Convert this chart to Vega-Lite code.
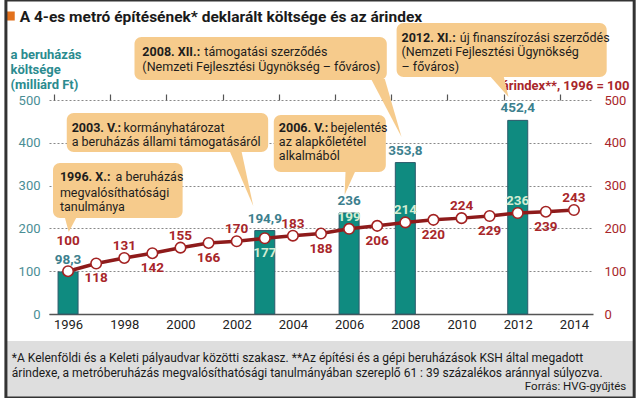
{
  "$schema": "https://vega.github.io/schema/vega-lite/v6.json",
  "width": 544,
  "height": 214,
  "autosize": "none",
  "padding": {"left": 49, "top": 100, "right": 47, "bottom": 84},
  "background": "white",
  "config": {
    "font": "Roboto",
    "view": {"stroke": null},
    "locale": {"number": {"decimal": ",", "thousands": " ", "grouping": [3], "currency": ["", ""]}}
  },
  "datasets": {
    "costs": [
      {"year": 1996, "cost": 98.3},
      {"year": 2003, "cost": 194.9},
      {"year": 2006, "cost": 236},
      {"year": 2008, "cost": 353.8},
      {"year": 2012, "cost": 452.4}
    ],
    "index": [
      {"year": 1996, "index": 100},
      {"year": 1997, "index": 118},
      {"year": 1998, "index": 131},
      {"year": 1999, "index": 142},
      {"year": 2000, "index": 155},
      {"year": 2001, "index": 166},
      {"year": 2002, "index": 170},
      {"year": 2003, "index": 177},
      {"year": 2004, "index": 183},
      {"year": 2005, "index": 188},
      {"year": 2006, "index": 199},
      {"year": 2007, "index": 206},
      {"year": 2008, "index": 214},
      {"year": 2009, "index": 220},
      {"year": 2010, "index": 224},
      {"year": 2011, "index": 229},
      {"year": 2012, "index": 236},
      {"year": 2013, "index": 239},
      {"year": 2014, "index": 243}
    ],
    "boxes": [
      {"id": "1996", "x1": 1995.465, "x2": 2000.076, "y1": 352.8, "y2": 224.3},
      {"id": "2003", "x1": 1995.954, "x2": 2003.12, "y1": 469.6, "y2": 378.5},
      {"id": "2006", "x1": 2003.32, "x2": 2007.306, "y1": 465.0, "y2": 331.8},
      {"id": "2008", "x1": 1998.364, "x2": 2007.341, "y1": 647.2, "y2": 546.7},
      {"id": "2012", "x1": 2007.69, "x2": 2015.165, "y1": 679.9, "y2": 553.7}
    ],
    "pointers": [
      {"id": "1996", "k": 1, "year": 1995.884, "value": 226},
      {"id": "1996", "k": 2, "year": 1996.024, "value": 191.6},
      {"id": "1996", "k": 3, "year": 1996.303, "value": 226},
      {"id": "2003", "k": 1, "year": 2001.752, "value": 380},
      {"id": "2003", "k": 2, "year": 2002.59, "value": 252.3},
      {"id": "2003", "k": 3, "year": 2002.171, "value": 380},
      {"id": "2006", "k": 1, "year": 2005.874, "value": 334},
      {"id": "2006", "k": 2, "year": 2005.839, "value": 278.0},
      {"id": "2006", "k": 3, "year": 2006.223, "value": 334},
      {"id": "2008", "k": 1, "year": 2006.782, "value": 549},
      {"id": "2008", "k": 2, "year": 2007.865, "value": 413.6},
      {"id": "2008", "k": 3, "year": 2007.271, "value": 549},
      {"id": "2012", "k": 1, "year": 2011.008, "value": 556},
      {"id": "2012", "k": 2, "year": 2011.672, "value": 507.0},
      {"id": "2012", "k": 3, "year": 2011.497, "value": 556}
    ],
    "boldText": [
      {"year": 1995.71, "value": 320.8, "text": "1996. X.:"},
      {"year": 1996.129, "value": 434.6, "text": "2003. V.:"},
      {"year": 2003.5, "value": 434.6, "text": "2006. V.:"},
      {"year": 1998.644, "value": 612.1, "text": "2008. XII.:"},
      {"year": 2007.865, "value": 644.9, "text": "2012. XI.:"}
    ],
    "plainText": [
      {"year": 1997.69, "value": 320.8, "text": "a beruházás"},
      {"year": 1995.71, "value": 283.4, "text": "megvalósíthatósági"},
      {"year": 1995.71, "value": 249.3, "text": "tanulmánya"},
      {"year": 1997.97, "value": 434.6, "text": "kormányhatározat"},
      {"year": 1996.129, "value": 401.9, "text": "a beruházás állami támogatásáról"},
      {"year": 2005.34, "value": 434.6, "text": "bejelentés"},
      {"year": 2003.5, "value": 401.9, "text": "az alapkőletétel"},
      {"year": 2003.5, "value": 368.0, "text": "alkalmából"},
      {"year": 2000.85, "value": 612.1, "text": "támogatási szerződés"},
      {"year": 1998.644, "value": 577.1, "text": "(Nemzeti Fejlesztési Ügynökség – főváros)"},
      {"year": 2009.94, "value": 644.9, "text": "új finanszírozási szerződés"},
      {"year": 2007.865, "value": 611.0, "text": "(Nemzeti Fejlesztési Ügynökség"},
      {"year": 2007.865, "value": 577.5, "text": "– főváros)"}
    ],
    "heading": [
      {"year": 1994.278, "value": 694, "text": "A 4-es metró építésének* deklarált költsége és az árindex"}
    ],
    "notes": [
      {"year": 1993.998, "value": -102.8, "text": "*A Kelenföldi és a Keleti pályaudvar közötti szakasz. **Az építési és a gépi beruházások KSH által megadott"},
      {"year": 1993.998, "value": -137.9, "text": "árindexe, a metróberuházás megvalósíthatósági tanulmányában szereplő 61 : 39 százalékos aránnyal súlyozva."}
    ],
    "source": [
      {"year": 2015.863, "value": -170.6, "text": "Forrás: HVG-gyűjtés"}
    ],
    "panel": [
      {"x1": 1993.789, "x2": 2016.143, "y1": -63.1, "y2": -200}
    ],
    "frame": [
      {"x1": 1993.789, "x2": 2016.143, "y1": 733.6, "y2": -196.3}
    ],
    "marker": [
      {"x1": 1993.789, "x2": 1994.103, "y1": 706.8, "y2": 685.7}
    ]
  },
  "layer": [
    {
      "layer": [
        {
          "data": {"name": "panel"},
          "mark": {"type": "rect", "fill": "#dedede"},
          "encoding": {
            "x": {"field": "x1", "type": "quantitative", "scale": {"domain": [1995.5, 2014.5], "nice": false, "zero": false}},
            "x2": {"field": "x2"},
            "y": {"field": "y1", "type": "quantitative", "scale": {"domain": [0, 500], "nice": false}},
            "y2": {"field": "y2"}
          }
        },
        {
          "data": {"name": "marker"},
          "mark": {"type": "rect", "fill": "#e2711d"},
          "encoding": {
            "x": {"field": "x1", "type": "quantitative"},
            "x2": {"field": "x2"},
            "y": {"field": "y1", "type": "quantitative"},
            "y2": {"field": "y2"}
          }
        },
        {
          "data": {"name": "heading"},
          "mark": {"type": "text", "align": "left", "baseline": "middle", "fontSize": 15.5, "fontWeight": "bold", "color": "#1a1a1a"},
          "encoding": {
            "x": {"field": "year", "type": "quantitative"},
            "y": {"field": "value", "type": "quantitative"},
            "text": {"field": "text"}
          }
        },
        {
          "data": {"name": "costs"},
          "mark": {"type": "bar", "width": 20, "fill": "#0f8b80", "stroke": "#2d5a6b", "strokeWidth": 1},
          "encoding": {
            "x": {
              "field": "year", "type": "quantitative",
              "axis": {
                "title": null,
                "values": [1996, 1998, 2000, 2002, 2004, 2006, 2008, 2010, 2012, 2014],
                "format": "d",
                "labelOverlap": false,
                "labelFlush": false,
                "grid": false,
                "ticks": false,
                "domainColor": "#555",
                "domainWidth": 1.5,
                "labelFontSize": 13,
                "labelColor": "#222",
                "labelPadding": 4
              }
            },
            "y": {
              "field": "cost", "type": "quantitative",
              "axis": {
                "title": ["a beruházás", "költsége", "(milliárd Ft)"],
                "titleAngle": 0,
                "titleAlign": "left",
                "titleBaseline": "top",
                "titleX": -39,
                "titleY": -52,
                "titleLineHeight": 15,
                "titleFontSize": 13,
                "titleFontWeight": "bold",
                "titleColor": "#2b8b8f",
                "values": [0, 100, 200, 300, 400, 500],
                "grid": true,
                "gridDash": [2, 2],
                "gridColor": "#888",
                "domain": false,
                "ticks": false,
                "labelColor": "#4a8e95",
                "labelFontSize": 13,
                "labelPadding": 9
              }
            }
          }
        },
        {
          "data": {"name": "costs"},
          "mark": {"type": "text", "dy": -12, "fontSize": 13.5, "fontWeight": "bold", "color": "#3d7f8e"},
          "encoding": {
            "x": {"field": "year", "type": "quantitative"},
            "y": {"field": "cost", "type": "quantitative"},
            "text": {"field": "cost", "type": "quantitative", "format": ".1~f"}
          }
        },
        {
          "data": {"name": "boxes"},
          "mark": {"type": "rect", "fill": "#f6cb8c", "cornerRadius": 7},
          "encoding": {
            "x": {"field": "x1", "type": "quantitative"},
            "x2": {"field": "x2"},
            "y": {"field": "y1", "type": "quantitative"},
            "y2": {"field": "y2"}
          }
        },
        {
          "data": {"name": "pointers"},
          "mark": {"type": "line", "fill": "#f6cb8c", "stroke": null, "strokeWidth": 0},
          "encoding": {
            "x": {"field": "year", "type": "quantitative"},
            "y": {"field": "value", "type": "quantitative"},
            "detail": {"field": "id"},
            "order": {"field": "k"}
          }
        },
        {
          "data": {"name": "boldText"},
          "mark": {"type": "text", "align": "left", "baseline": "middle", "fontSize": 12.5, "fontWeight": "bold", "color": "#1d1d1d"},
          "encoding": {
            "x": {"field": "year", "type": "quantitative"},
            "y": {"field": "value", "type": "quantitative"},
            "text": {"field": "text"}
          }
        },
        {
          "data": {"name": "plainText"},
          "mark": {"type": "text", "align": "left", "baseline": "middle", "fontSize": 12.5, "color": "#1d1d1d"},
          "encoding": {
            "x": {"field": "year", "type": "quantitative"},
            "y": {"field": "value", "type": "quantitative"},
            "text": {"field": "text"}
          }
        },
        {
          "data": {"name": "notes"},
          "mark": {"type": "text", "align": "left", "baseline": "middle", "fontSize": 12, "color": "#1a1a1a"},
          "encoding": {
            "x": {"field": "year", "type": "quantitative"},
            "y": {"field": "value", "type": "quantitative"},
            "text": {"field": "text"}
          }
        },
        {
          "data": {"name": "source"},
          "mark": {"type": "text", "align": "right", "baseline": "middle", "fontSize": 11.5, "color": "#1a1a1a"},
          "encoding": {
            "x": {"field": "year", "type": "quantitative"},
            "y": {"field": "value", "type": "quantitative"},
            "text": {"field": "text"}
          }
        },
        {
          "data": {"name": "frame"},
          "mark": {"type": "rect", "fill": null, "stroke": "#333", "strokeWidth": 3},
          "encoding": {
            "x": {"field": "x1", "type": "quantitative"},
            "x2": {"field": "x2"},
            "y": {"field": "y1", "type": "quantitative"},
            "y2": {"field": "y2"}
          }
        }
      ]
    },
    {
      "data": {"name": "index"},
      "layer": [
        {
          "mark": {"type": "line", "color": "#8e1b1b", "strokeWidth": 3.5},
          "encoding": {
            "x": {
              "field": "year", "type": "quantitative",
              "axis": {
                "title": null,
                "values": [1995.5, 1996.5, 1997.5, 1998.5, 1999.5, 2000.5, 2001.5, 2002.5, 2003.5, 2004.5, 2005.5, 2006.5, 2007.5, 2008.5, 2009.5, 2010.5, 2011.5, 2012.5, 2013.5, 2014.5],
                "labels": false,
                "domain": false,
                "grid": false,
                "ticks": true,
                "tickColor": "#555",
                "tickSize": 6,
                "tickWidth": 1.2
              }
            },
            "y": {
              "field": "index", "type": "quantitative",
              "scale": {"domain": [0, 500], "nice": false},
              "axis": {
                "orient": "right",
                "title": "árindex**, 1996 = 100",
                "titleAngle": 0,
                "titleAlign": "right",
                "titleBaseline": "middle",
                "titleX": 36,
                "titleY": -15,
                "titleFontSize": 13,
                "titleFontWeight": "bold",
                "titleColor": "#a8262a",
                "values": [0, 100, 200, 300, 400, 500],
                "grid": false,
                "domain": false,
                "ticks": false,
                "labelColor": "#a8262a",
                "labelFontSize": 13,
                "labelPadding": 11
              }
            }
          }
        },
        {
          "mark": {"type": "point", "filled": true, "fill": "white", "stroke": "#a32222", "strokeWidth": 1.6, "size": 110, "opacity": 1},
          "encoding": {
            "x": {"field": "year", "type": "quantitative"},
            "y": {"field": "index", "type": "quantitative"}
          }
        },
        {
          "transform": [{"filter": "datum.year % 2 == 0 && datum.year != 1996"}],
          "mark": {"type": "text", "dy": -12, "fontSize": 13.5, "fontWeight": "bold"},
          "encoding": {
            "x": {"field": "year", "type": "quantitative"},
            "y": {"field": "index", "type": "quantitative"},
            "text": {"field": "index", "type": "quantitative"},
            "color": {"condition": {"test": "indexof([2003, 2006, 2008, 2012], datum.year) >= 0", "value": "#d3ecd3"}, "value": "#a8262a"}
          }
        },
        {
          "transform": [{"filter": "datum.year % 2 == 1"}],
          "mark": {"type": "text", "dy": 15, "fontSize": 13.5, "fontWeight": "bold"},
          "encoding": {
            "x": {"field": "year", "type": "quantitative"},
            "y": {"field": "index", "type": "quantitative"},
            "text": {"field": "index", "type": "quantitative"},
            "color": {"condition": {"test": "indexof([2003, 2006, 2008, 2012], datum.year) >= 0", "value": "#d3ecd3"}, "value": "#a8262a"}
          }
        },
        {
          "transform": [{"filter": "datum.year == 1996"}],
          "mark": {"type": "text", "dy": -30, "fontSize": 13.5, "fontWeight": "bold", "color": "#a8262a"},
          "encoding": {
            "x": {"field": "year", "type": "quantitative"},
            "y": {"field": "index", "type": "quantitative"},
            "text": {"field": "index", "type": "quantitative"}
          }
        }
      ]
    }
  ],
  "resolve": {"scale": {"y": "independent"}, "axis": {"x": "independent"}}
}
